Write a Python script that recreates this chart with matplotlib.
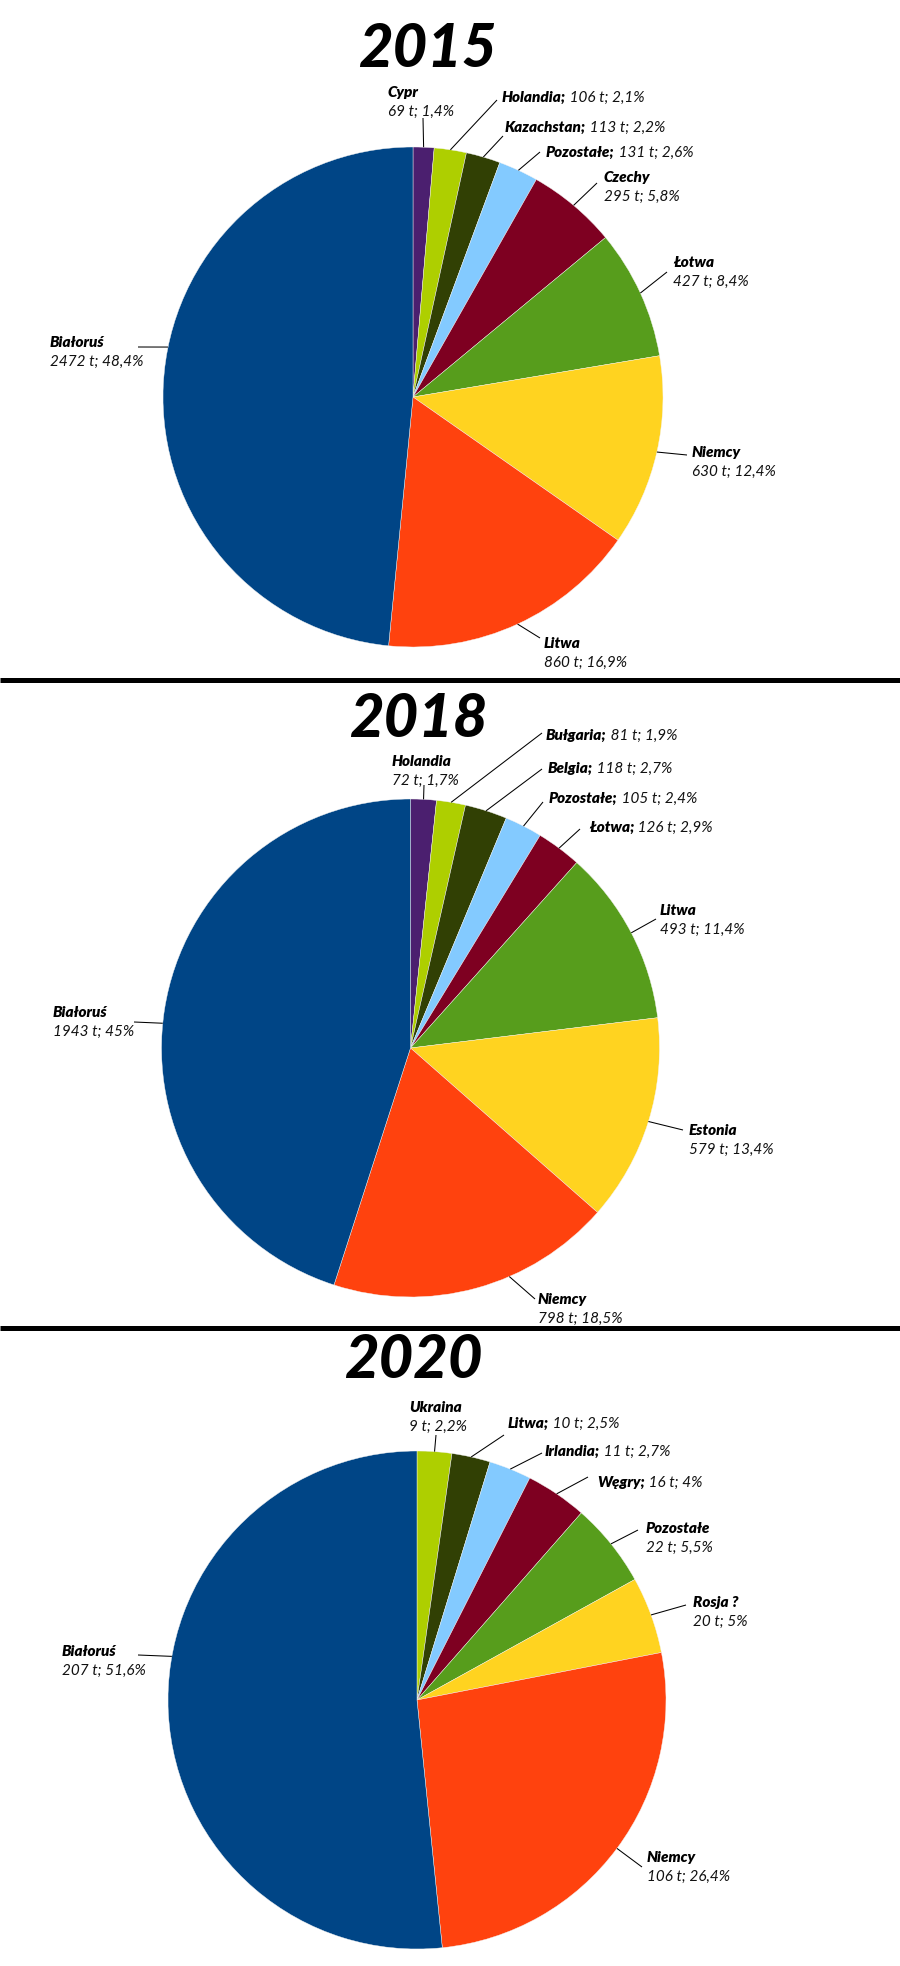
import matplotlib
matplotlib.use("Agg")
import matplotlib.pyplot as plt
import numpy as np

# ---------------- data ----------------
years = ["2015", "2018", "2020"]

names_2015 = ["Cypr", "Holandia", "Kazachstan", "Pozostałe", "Czechy", "Łotwa", "Niemcy", "Litwa", "Białoruś"]
tons_2015 = [69, 106, 113, 131, 295, 427, 630, 860, 2472]
pct_2015 = ["1,4%", "2,1%", "2,2%", "2,6%", "5,8%", "8,4%", "12,4%", "16,9%", "48,4%"]

names_2018 = ["Holandia", "Bułgaria", "Belgia", "Pozostałe", "Łotwa", "Litwa", "Estonia", "Niemcy", "Białoruś"]
tons_2018 = [72, 81, 118, 105, 126, 493, 579, 798, 1943]
pct_2018 = ["1,7%", "1,9%", "2,7%", "2,4%", "2,9%", "11,4%", "13,4%", "18,5%", "45%"]

names_2020 = ["Ukraina", "Litwa", "Irlandia", "Węgry", "Pozostałe", "Rosja ?", "Niemcy", "Białoruś"]
tons_2020 = [9, 10, 11, 16, 22, 20, 106, 207]
pct_2020 = ["2,2%", "2,5%", "2,7%", "4%", "5,5%", "5%", "26,4%", "51,6%"]

# LibreOffice default chart palette (assigned from the largest slice backwards)
palette = ["#004586", "#ff420e", "#ffd320", "#579d1c", "#7e0021",
           "#83caff", "#314004", "#aecf00", "#4b1f6f"]

# ---------------- layout (pixel coordinates, y downward) ----------------
W, H = 900, 1966
FONT = ["Lato", "DejaVu Sans"]
FS = 11
LINE = 19

# (mode, text_x, text_y(middle of first line), leader_end_x, leader_end_y, attach fraction)
lay_2015 = dict(center=(413, 397), r=250, title=(427, 67), labels=[
    ("two", 388, 92, 423, 118, 0.5),
    ("one", 502, 97, 497, 100, 0.5),
    ("one", 505, 127, 503, 136, 0.5),
    ("one", 546, 152, 540, 152, 0.5),
    ("two", 604, 177, 597, 183, 0.5),
    ("two", 673, 262, 667, 272, 0.5),
    ("two", 692, 452, 687, 455, 0.5),
    ("two", 544, 643, 540, 638, 0.5),
    ("two", 50, 342, 138, 347, 0.55),
])
lay_2018 = dict(center=(410.5, 1048), r=249, title=(418, 737), labels=[
    ("two", 392, 761, 424, 785, 0.5),
    ("one", 546, 735, 542, 733, 0.5),
    ("one", 548, 768, 542, 769, 0.5),
    ("one", 549, 798, 543, 802, 0.5),
    ("one", 589, 827, 580, 829, 0.5),
    ("two", 660, 910, 656, 919, 0.5),
    ("two", 689, 1130, 683, 1130, 0.5),
    ("two", 538, 1299, 535, 1299, 0.38),
    ("two", 53, 1012, 134, 1022, 0.48),
])
lay_2020 = dict(center=(417, 1700), r=249, title=(413, 1378), labels=[
    ("two", 409, 1407, 436, 1435, 0.5),
    ("one", 508, 1423, 504, 1435, 0.5),
    ("one", 545, 1451, 542, 1453, 0.5),
    ("one", 597, 1482, 588, 1477, 0.5),
    ("two", 646, 1528, 638, 1530, 0.5),
    ("two", 693, 1602, 686, 1605, 0.5),
    ("two", 647, 1857, 642, 1867, 0.5),
    ("two", 62, 1651, 138, 1655, 0.57),
])

charts = [
    (years[0], names_2015, tons_2015, pct_2015, lay_2015),
    (years[1], names_2018, tons_2018, pct_2018, lay_2018),
    (years[2], names_2020, tons_2020, pct_2020, lay_2020),
]
separators_y = [679.5, 1327.5]

# ---------------- drawing ----------------
fig = plt.figure(figsize=(W / 100, H / 100), dpi=100)
fig.patch.set_facecolor("white")
ax = fig.add_axes([0, 0, 1, 1])

BASE = 5  # offset from line middle to baseline in px

for year, names, tons, pcts, lay in charts:
    n = len(tons)
    colors = palette[:n][::-1]
    cx, cy = lay["center"]
    r = lay["r"]
    # y axis is inverted -> start at -90 and go counterclockwise in data = clockwise on screen from top
    wedges, _ = ax.pie(tons, colors=colors, center=(cx, cy), radius=r,
                       startangle=-90, counterclock=True,
                       wedgeprops=dict(linewidth=0.3, edgecolor="#f4f4f4"))
    ax.text(lay["title"][0], lay["title"][1], year, ha="center", va="baseline",
            fontsize=43, fontweight="black", fontstyle="italic", family=FONT, color="black")
    for w, name, t, p, (mode, tx, ty, ex, ey, frac) in zip(wedges, names, tons, pcts, lay["labels"]):
        ang = np.deg2rad(w.theta1 + frac * (w.theta2 - w.theta1))
        sx, sy = cx + r * np.cos(ang), cy + r * np.sin(ang)
        ax.plot([sx, ex], [sy, ey], color="black", lw=0.75, solid_capstyle="butt")
        val = f"{t} t; {p}"
        if mode == "two":
            ax.text(tx, ty + BASE, name, ha="left", va="baseline", fontsize=FS,
                    fontweight="heavy", fontstyle="italic", family=FONT, color="black")
            ax.text(tx, ty + LINE + BASE, val, ha="left", va="baseline", fontsize=FS,
                    fontstyle="italic", family=FONT, color="#111111")
        else:
            tb = ax.text(tx, ty + BASE, name + ";", ha="left", va="baseline", fontsize=FS,
                         fontweight="heavy", fontstyle="italic", family=FONT, color="black")
            ax.annotate(" " + val, xy=(1, ty + BASE), xycoords=(tb, "data"),
                        ha="left", va="baseline", fontsize=FS,
                        fontstyle="italic", family=FONT, color="#111111")

for y in separators_y:
    ax.plot([0, W], [y, y], color="black", lw=3.6, solid_capstyle="butt")

ax.set_xlim(0, W)
ax.set_ylim(H, 0)
ax.set_aspect("auto")
ax.axis("off")

fig.savefig("out.png", dpi=100, facecolor="white")
